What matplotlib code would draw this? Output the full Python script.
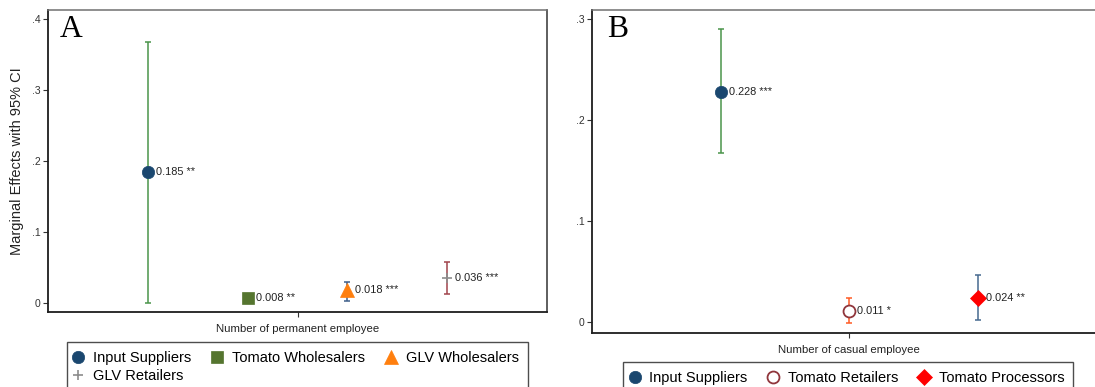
import numpy as np
import matplotlib
matplotlib.use("Agg")
import matplotlib.pyplot as plt

plt.rcParams['font.family'] = ['Liberation Sans', 'DejaVu Sans']

# ---------------- data ----------------
cats_a = ["Input Suppliers", "Tomato Wholesalers", "GLV Wholesalers", "GLV Retailers"]
est_a = [0.185, 0.008, 0.018, 0.036]
lo_a = [0.001, 0.004, 0.003, 0.013]
hi_a = [0.368, 0.012, 0.030, 0.058]
stars_a = ["**", "**", "***", "***"]
xlabel_a = "Number of permanent employee"
yticks_a = [0, 0.1, 0.2, 0.3, 0.4]
yticklabels_a = ["0", ".1", ".2", ".3", ".4"]

cats_b = ["Input Suppliers", "Tomato Retailers", "Tomato Processors"]
est_b = [0.228, 0.011, 0.024]
lo_b = [0.167, -0.001, 0.002]
hi_b = [0.290, 0.024, 0.047]
stars_b = ["***", "*", "**"]
xlabel_b = "Number of casual employee"
yticks_b = [0, 0.1, 0.2, 0.3]
yticklabels_b = ["0", ".1", ".2", ".3"]

ylabel = "Marginal Effects with 95% CI"

# ---------------- styles ----------------
style_a = [
    dict(marker='o', ms=8.9, mfc='#1a476f', mec='#1a476f', ci='#4a944a'),
    dict(marker='s', ms=8.4, mfc='#55752f', mec='#55752f', ci='#55752f'),
    dict(marker='^', ms=9.6, mfc='#ff7f0e', mec='#ff7f0e', ci='#3e5f8a'),
    dict(marker='+', ms=7.7, mfc='#8c8c8c', mec='#8c8c8c', ci='#a0444c'),
]
style_b = [
    dict(marker='o', ms=8.9, mfc='#1a476f', mec='#1a476f', ci='#4a944a'),
    dict(marker='o', ms=8.6, mfc='white', mec='#90353b', ci='#ff5b24'),
    dict(marker='D', ms=8.1, mfc='#ff0000', mec='#ff0000', ci='#47698f'),
]

W, H = 1095, 387
fig = plt.figure(figsize=(W / 100, H / 100), dpi=100)


def px_rect(l, t, r, b):
    return [l / W, 1 - b / H, (r - l) / W, (b - t) / H]


def draw_panel(ax, cats, est, lo, hi, stars, styles, xlim, ylim, yticks, ytl, xtick, xlabel, xlab_y):
    x = np.arange(1, len(cats) + 1)
    handles = []
    for i in range(len(cats)):
        st = styles[i]
        ax.errorbar([x[i]], [est[i]], yerr=[[est[i] - lo[i]], [hi[i] - est[i]]],
                    fmt='none', ecolor=st['ci'], elinewidth=1.1, capsize=2.2,
                    capthick=1.1, zorder=2)
        mew = 1.2 if st['marker'] in ('+',) else (1.3 if st['mfc'] == 'white' else 0.5)
        h, = ax.plot([x[i]], [est[i]], ls='none', marker=st['marker'], ms=st['ms'],
                     mfc=st['mfc'], mec=st['mec'], mew=mew, label=cats[i], zorder=3)
        handles.append(h)
        ax.annotate(f"{est[i]:.3f} {stars[i]}", (x[i], est[i]), xytext=(5.8, 0),
                    textcoords='offset points', ha='left', va='center',
                    fontsize=7.9, color='#222222', zorder=4)
    ax.set_xlim(*xlim)
    ax.set_ylim(*ylim)
    ax.set_yticks(yticks)
    ax.set_yticklabels(ytl)
    ax.set_xticks([xtick])
    ax.set_xticklabels([''])
    ax.tick_params(axis='both', direction='out', length=3.6, width=0.8,
                   color='#333333', labelsize=7.5, labelcolor='#333333', pad=2)
    ax.set_xlabel(xlabel, fontsize=8.2, color='#222222')
    ax.xaxis.label.set_va('center')
    ax.xaxis.set_label_coords(0.5, xlab_y)
    for side in ('left', 'bottom'):
        ax.spines[side].set_color('#1e1e1e')
        ax.spines[side].set_linewidth(1.3)
    ax.spines['right'].set_color('#333333')
    ax.spines['right'].set_linewidth(1.1)
    ax.spines['top'].set_color('#707070')
    ax.spines['top'].set_linewidth(1.1)
    return handles


# Panel A
axA = fig.add_axes(px_rect(48.3, 10, 546.7, 312))
hA = draw_panel(axA, cats_a, est_a, lo_a, hi_a, stars_a, style_a, (0, 5), (-0.0123, 0.4127),
                yticks_a, yticklabels_a, 2.5, xlabel_a, -(329.5 - 312) / 302)
axA.set_ylabel(ylabel, fontsize=10.5, color='#222222')
axA.yaxis.label.set_va('center')
axA.yaxis.set_label_coords((17 - 48.3) / 498.4, 0.5)

# Panel B (right edge extends past the figure, as in the cropped original)
axB = fig.add_axes(px_rect(592.3, 10, 1105.9, 332.7))
hB = draw_panel(axB, cats_b, est_b, lo_b, hi_b, stars_b, style_b, (0, 4), (-0.0105, 0.309),
                yticks_b, yticklabels_b, 2, xlabel_b, -(349.8 - 332.7) / 322.7)

# Panel letters
fig.text(60 / W, 1 - 37 / H, "A", family='Liberation Serif', fontsize=22.8,
         ha='left', va='baseline', color='black')
fig.text(606.7 / W, 1 - 36.7 / H, "B", family='Liberation Serif', fontsize=22.8,
         ha='left', va='baseline', color='black')

# Legends (row-major order as in the original: matplotlib fills column-wise)
leg_kw = dict(loc='upper left', mode='expand', borderaxespad=0, fontsize=10.5,
              frameon=True, fancybox=False, edgecolor='#4d4d4d', framealpha=1,
              borderpad=0.62, handlelength=0.3, handleheight=0.7, handletextpad=0.83,
              labelspacing=0.28, numpoints=1)
orderA = [0, 3, 1, 2]
legA = fig.legend([hA[i] for i in orderA], [cats_a[i] for i in orderA], ncol=3,
                  bbox_to_anchor=(67 / W, 1 - 342 / H, (527.7 - 67) / W, 0.001),
                  **leg_kw)
legA.get_frame().set_linewidth(1.0)
legB = fig.legend(hB, cats_b, ncol=3,
                  bbox_to_anchor=(623.3 / W, 1 - 362.7 / H, (1073.3 - 623.3) / W, 0.001),
                  **leg_kw)
legB.get_frame().set_linewidth(1.0)

fig.savefig("out.png", dpi=100)
